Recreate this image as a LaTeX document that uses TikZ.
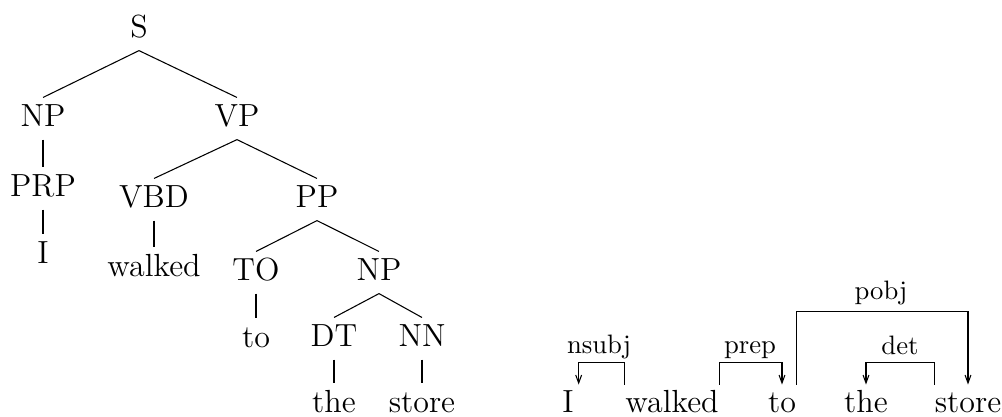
\documentclass[tikz,border=0pt]{standalone}
\usetikzlibrary{arrows.meta}
\begin{document}
\begin{tikzpicture}[x=0.375pt,y=-0.375pt,
  font=\fontsize{12}{14}\selectfont,
  tn/.style={inner sep=0pt,text height=10.5pt,text depth=4.9pt,anchor=base},
  wd/.style={inner sep=0pt,text height=10.1pt,text depth=0pt,anchor=base},
  lbl/.style={inner sep=0pt,anchor=base,font=\fontsize{10}{12}\selectfont},
  dep/.style={-{Straight Barb[length=3pt,width=2.2pt]}},
  edge/.style={line width=0.4pt}]
\useasboundingbox (0,0) rectangle (1002,416);
% constituency tree
\node[tn] (S) at (139,37) {S};
\node[tn] (NPa) at (43,126) {NP};
\node[tn] (VP) at (237,126) {VP};
\node[tn] (PRP) at (43,196) {PRP};
\node[tn] (VBD) at (154,207) {VBD};
\node[tn] (PP) at (317,207) {PP};
\node[tn] (tI) at (43,263) {I};
\node[tn] (twalked) at (154,276) {walked};
\node[tn] (TO) at (256,280) {TO};
\node[tn] (NPb) at (379,280) {NP};
\node[tn] (tto) at (256,347) {to};
\node[tn] (DT) at (334,346) {DT};
\node[tn] (NN) at (422,346) {NN};
\node[tn] (tthe) at (334,412) {the};
\node[tn] (tstore) at (422,412) {store};
\draw[edge] (S.south) -- (NPa.north);
\draw[edge] (S.south) -- (VP.north);
\draw[edge] (NPa.south) -- (PRP.north);
\draw[edge] (PRP.south) -- (tI.north);
\draw[edge] (VP.south) -- (VBD.north);
\draw[edge] (VP.south) -- (PP.north);
\draw[edge] (VBD.south) -- (twalked.north);
\draw[edge] (PP.south) -- (TO.north);
\draw[edge] (PP.south) -- (NPb.north);
\draw[edge] (TO.south) -- (tto.north);
\draw[edge] (NPb.south) -- (DT.north);
\draw[edge] (NPb.south) -- (NN.north);
\draw[edge] (DT.south) -- (tthe.north);
\draw[edge] (NN.south) -- (tstore.north);
% dependency graph
\node[wd] (dI) at (568,412) {I};
\node[wd] (dwalked) at (672,412) {walked};
\node[wd] (dto) at (782,412) {to};
\node[wd] (dthe) at (866,412) {the};
\node[wd] (dstore) at (968,412) {store};
\draw[edge,dep] (dwalked.north west) -- ++(0,-22) -| ([xshift=4]dI.north);
\draw[edge,dep] (dwalked.north east) -- ++(0,-22) -| (dto.north);
\draw[edge,dep] (dto.north east) -- ++(0,-73) -| (dstore.north);
\draw[edge,dep] (dstore.north west) -- ++(0,-22) -| (dthe.north);
\node[lbl] (lnsubj) at (599,353) {nsubj};
\node[lbl] (lprep) at (750,353) {prep};
\node[lbl] (lpobj) at (881,299) {pobj};
\node[lbl] (ldet) at (900,354) {det};
\end{tikzpicture}
\end{document}
